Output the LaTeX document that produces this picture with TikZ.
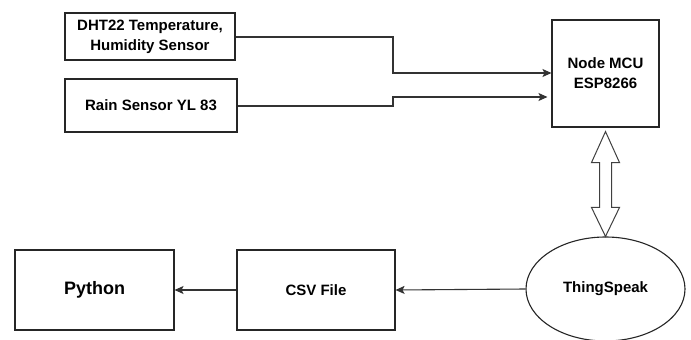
\documentclass[tikz,border=0pt]{standalone}
\usepackage{fontspec}
\setmainfont{Liberation Sans}
\usetikzlibrary{shapes.geometric,arrows.meta,calc}
\begin{document}
\begin{tikzpicture}[x=1pt,y=-1pt,
  box/.style={draw=black!85,line width=1.1pt,rectangle,inner sep=0pt,align=center,font=\fontsize{15}{20}\selectfont\bfseries},
  link/.style={draw=black!80,line width=1.1pt,-{Stealth[length=9pt,width=8pt,inset=2pt]}},
  bigarrow/.style={draw=black!75,line width=1pt,fill=white,line join=miter}]
\useasboundingbox[fill=white] (0,0) rectangle (691,340);
\node[box,minimum width=170pt,minimum height=47pt] (dht) at (150,36.5) {DHT22 Temperature,\\Humidity Sensor};
\node[box,minimum width=172pt,minimum height=53pt] (rain) at (151,105.5) {Rain Sensor YL 83};
\node[box,minimum width=107pt,minimum height=107pt] (mcu) at (605.5,73.5) {Node MCU\\ESP8266};
\node[box,ellipse,minimum width=159pt,minimum height=104pt] (ts) at (605.5,289) {ThingSpeak};
\node[box,minimum width=158pt,minimum height=80pt] (csv) at (316,290) {CSV File};
\node[box,minimum width=159pt,minimum height=80pt,font=\fontsize{18}{22}\selectfont\bfseries] (py) at (94.5,290) {Python};
\coordinate (bend1) at (393,37);
\coordinate (bend2) at (393,106);
\draw[link] (dht.east |- bend1) -- (bend1) -- (bend1 |- {$(mcu.west)+(0,-0.5)$}) -- ($(mcu.west)+(0,-0.5)$);
\draw[link] (rain.east |- bend2) -- (bend2) -- (bend2 |- {$(mcu.west)+(0,23.5)$}) -- ($(mcu.west)+(-4,23.5)$);
\draw[link] (ts.west) -- (csv.east);
\draw[link] (csv.west) -- (py.east);
\coordinate (at) at ($(mcu.south)+(0,4)$);
\coordinate (ab) at (ts.north);
\draw[bigarrow] (at) -- ($(at)+(14,31)$) -- ($(at)+(6,31)$) -- ($(ab)+(6,-29)$) -- ($(ab)+(14,-29)$) -- (ab)
  -- ($(ab)+(-14,-29)$) -- ($(ab)+(-6,-29)$) -- ($(at)+(-6,31)$) -- ($(at)+(-14,31)$) -- cycle;
\end{tikzpicture}
\end{document}
